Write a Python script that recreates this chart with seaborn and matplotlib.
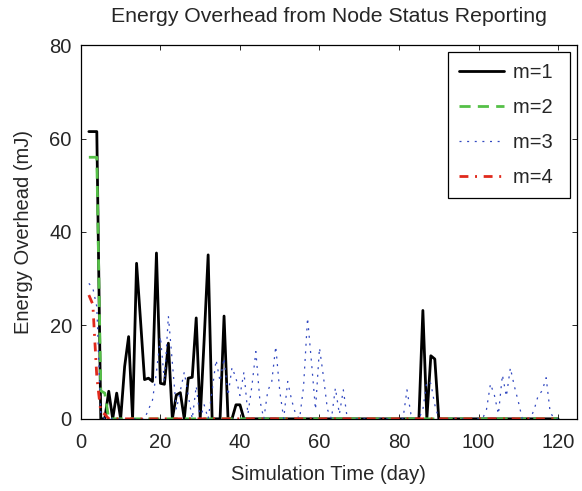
import numpy as np
import pandas as pd
import matplotlib
matplotlib.use("Agg")
import matplotlib.pyplot as plt
import seaborn as sns

days = list(range(2, 121))

# m=1 (black)
m1_vals = {2: 61.5, 3: 61.5, 4: 61.5, 5: 0, 6: 0, 7: 5.9, 8: 0, 9: 5.5, 10: 0,
           11: 11.2, 12: 17.6, 13: 0, 14: 33.3, 15: 21, 16: 8.4, 17: 8.7, 18: 8.0,
           19: 35.5, 20: 7.6, 21: 7.4, 22: 16.2, 23: 0, 24: 5.1, 25: 5.6, 26: 0,
           27: 8.7, 28: 8.9, 29: 21.6, 30: 0, 31: 17, 32: 35.1, 33: 0, 34: 0, 35: 0,
           36: 22, 37: 0, 38: 0, 39: 3, 40: 3, 41: 0,
           85: 0, 86: 23.2, 87: 0, 88: 13.5, 89: 12.8, 90: 0}
# m=2 (green)
m2_vals = {2: 56, 3: 56, 4: 56, 5: 6, 6: 5.5, 7: 0}
# m=3 (blue)
m3_vals = {2: 29, 3: 28, 4: 24, 5: 1, 6: 0,
           16: 0, 17: 2, 18: 4, 19: 10, 20: 17.6, 21: 8, 22: 22, 23: 12, 24: 2,
           25: 6, 26: 10, 27: 5, 28: 0, 29: 7, 30: 0, 31: 3, 32: 0, 33: 6, 34: 12.6,
           35: 8, 36: 13, 37: 5, 38: 11, 39: 8.7, 40: 5, 41: 10, 42: 1, 43: 7,
           44: 14.4, 45: 4, 46: 0, 47: 6, 48: 8, 49: 15.5, 50: 6, 51: 0, 52: 8,
           53: 4, 54: 1, 55: 0, 56: 7, 57: 21.6, 58: 12, 59: 2, 60: 15.2, 61: 9,
           62: 2, 63: 0, 64: 6.6, 65: 1, 66: 6.2, 67: 0,
           81: 0, 82: 6.2, 83: 1, 84: 0, 86: 2, 87: 8, 88: 7.6, 89: 3, 90: 0,
           102: 2, 103: 7.5, 104: 5, 105: 1, 106: 9.4, 107: 4.8, 108: 10.9,
           109: 7, 110: 3.7, 111: 0, 114: 2, 115: 5, 116: 6, 117: 8.8, 118: 1.5,
           119: 0}
# m=4 (red)
m4_vals = {2: 26.5, 3: 24.5, 4: 9, 5: 1.5, 6: 1, 7: 0}

m1 = [m1_vals.get(d, 0) for d in days]
m2 = [m2_vals.get(d, 0) for d in days]
m3 = [m3_vals.get(d, 0) for d in days]
m4 = [m4_vals.get(d, 0) for d in days]

labels = ["m=1", "m=2", "m=3", "m=4"]
series = [m1, m2, m3, m4]
colors = ["#000000", "#55c047", "#3148c0", "#e0291c"]
styles = ["-", (0, (4, 2.6)), (0, (1.6, 4.5)), (0, (3.2, 2.4, 0.7, 2.4))]
widths = [2.0, 2.0, 0.9, 2.0]

sns.set_style("ticks")
plt.rcParams["font.family"] = ["Liberation Sans", "DejaVu Sans"]

fig = plt.figure(figsize=(5.82, 4.91), dpi=100)
ax = fig.add_axes([0.139, 0.147, 0.852, 0.761])

for lab, vals, c, ls, lw in zip(labels, series, colors, styles, widths):
    df = pd.DataFrame({"day": days, "val": vals})
    sns.lineplot(data=df, x="day", y="val", ax=ax, color=c, linestyle=ls,
                 linewidth=lw, label=lab + " ")

FS = 14.5
ax.set_xlim(0, 124.7)
ax.set_ylim(0, 80)
ax.set_xticks([0, 20, 40, 60, 80, 100, 120])
ax.set_yticks([0, 20, 40, 60, 80])
ax.tick_params(direction="in", top=True, right=True, length=3.6, width=0.7,
               labelsize=FS)
ax.tick_params(axis="x", pad=10.5)
ax.tick_params(axis="y", pad=6.5)
for s in ax.spines.values():
    s.set_linewidth(0.9)
    s.set_color("black")
ax.set_xlabel("Simulation Time (day)", fontsize=FS, labelpad=9)
ax.set_ylabel("Energy Overhead (mJ)", fontsize=FS, labelpad=12)
ax.set_title("Energy Overhead from Node Status Reporting", fontsize=15.3, pad=17)

leg = ax.legend(loc="upper right", fontsize=FS, handlelength=2.25,
                labelspacing=0.78, borderpad=0.55, fancybox=False,
                edgecolor="black", framealpha=1, handletextpad=0.45,
                borderaxespad=0.36)
leg.get_frame().set_linewidth(0.9)

fig.savefig("out.png", dpi=100)
